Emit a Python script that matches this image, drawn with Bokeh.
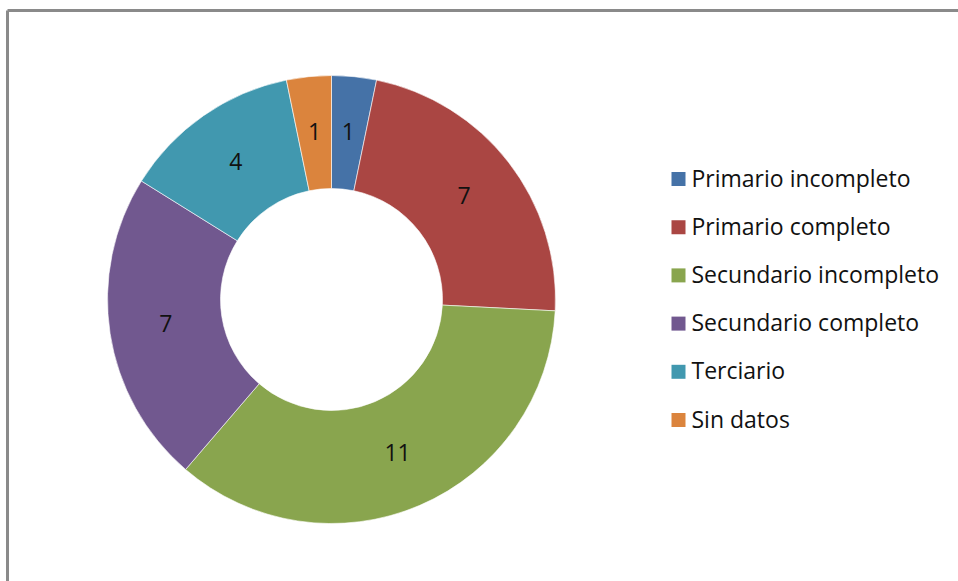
import math
from bokeh.plotting import figure
from bokeh.models import Range1d, ColumnDataSource
from bokeh.core.properties import value
from bokeh.embed import file_html
from bokeh.resources import INLINE

categories = ["Primario incompleto", "Primario completo", "Secundario incompleto",
              "Secundario completo", "Terciario", "Sin datos"]
counts = [1, 7, 11, 7, 4, 1]
colors = ["#4572A7", "#AA4643", "#89A54E", "#71588F", "#4198AF", "#DB843D"]

W, H = 958, 581
# donut centre in figure pixel offsets
CX, CY = 331, 299
R_OUT, R_IN = 224, 111
FONT = "Open Sans"

p = figure(width=W, height=H, output_backend="svg", toolbar_location=None,
           x_range=Range1d(-CX, W - CX), y_range=Range1d(-(H - CY), CY),
           x_axis_location=None, y_axis_location=None, min_border=0,
           outline_line_color=None, background_fill_color="white",
           border_fill_color="white")
p.grid.visible = False

total = sum(counts)
starts, ends, mids = [], [], []
cum = 0
for c in counts:
    a0 = math.pi / 2 - 2 * math.pi * cum / total
    a1 = math.pi / 2 - 2 * math.pi * (cum + c) / total
    starts.append(a0)
    ends.append(a1)
    mids.append((a0 + a1) / 2)
    cum += c

src = ColumnDataSource(dict(start=starts, end=ends, color=colors))
p.annular_wedge(x=0, y=0, inner_radius=R_IN, outer_radius=R_OUT,
                start_angle="start", end_angle="end", direction="clock",
                fill_color="color", line_color="white", line_width=0.6,
                source=src)

r_lab = (R_IN + R_OUT) / 2
lab = ColumnDataSource(dict(x=[r_lab * math.cos(m) for m in mids],
                            y=[r_lab * math.sin(m) + 1 for m in mids],
                            t=[str(c) for c in counts]))
p.text(x="x", y="y", text="t", source=lab, text_font=value(FONT),
       text_font_size="23px", text_align="center", text_baseline="middle",
       text_color="#111111")

# legend (custom)
leg_x_sq = 678 - CX
leg_x_txt = 691 - CX
row0 = CY - 178.5
step = 48.2
ly = [row0 - i * step for i in range(len(categories))]
leg = ColumnDataSource(dict(y=ly, ty=[v + 1.5 for v in ly], t=categories, color=colors))
p.rect(x=leg_x_sq, y="y", width=14, height=14, fill_color="color",
       line_color=None, source=leg)
p.text(x=leg_x_txt, y="ty", text="t", source=leg, text_font=value(FONT),
       text_font_size="23px", text_align="left", text_baseline="middle",
       text_color="#111111")

# chart border (top and left edges visible)
p.line(x=[-CX + 7, W - CX], y=[CY - 10, CY - 10], line_color="#8a8a8a", line_width=3)
p.line(x=[-CX + 7, -CX + 7], y=[CY - 10, -(H - CY)], line_color="#8a8a8a", line_width=3)

open("out.html", "w").write(file_html(p, INLINE))
